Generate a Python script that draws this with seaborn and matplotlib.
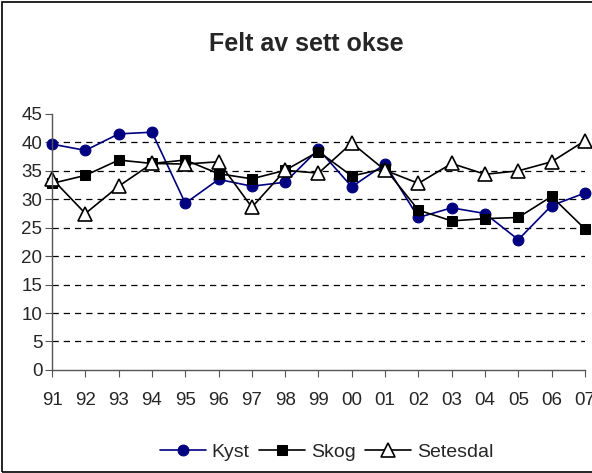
import numpy as np
import pandas as pd
import matplotlib
matplotlib.use("Agg")
import matplotlib.pyplot as plt
import seaborn as sns
from matplotlib.patches import Rectangle

# Data
years = ["91", "92", "93", "94", "95", "96", "97", "98", "99",
         "00", "01", "02", "03", "04", "05", "06", "07"]
kyst = [39.7, 38.6, 41.5, 41.8, 29.3, 33.5, 32.3, 33.0, 38.8,
        32.2, 36.2, 26.8, 28.5, 27.5, 22.9, 28.9, 31.1]
skog = [32.8, 34.2, 36.9, 36.3, 36.9, 34.5, 33.6, 35.1, 38.4,
        34.1, 35.4, 28.1, 26.2, 26.6, 26.8, 30.5, 24.8]
setesdal = [33.6, 27.5, 32.3, 36.3, 36.2, 36.6, 28.6, 35.1, 34.6,
            39.9, 35.1, 32.8, 36.3, 34.4, 35.0, 36.6, 40.3]
y_ticks = [0, 5, 10, 15, 20, 25, 30, 35, 40, 45]

sns.set_style("white")
plt.rcParams['font.family'] = ['Liberation Sans', 'DejaVu Sans']

fig = plt.figure(figsize=(5.92, 4.73), dpi=100)
ax = fig.add_axes([0.088, 0.218, 0.9, 0.541])

x = np.arange(len(years))

# Dashed grid lines (Excel style)
for t in y_ticks[1:-1]:
    ax.axhline(t, color="black", lw=0.9, ls=(0, (5, 4)), zorder=0)

sns.lineplot(x=x, y=kyst, ax=ax, color="#000080", marker="o", markersize=7.8,
             markeredgecolor="#000080", lw=1.2, label="Kyst", clip_on=False)
sns.lineplot(x=x, y=skog, ax=ax, color="black", marker="s", markersize=7.8,
             markeredgecolor="black", lw=1.2, label="Skog", clip_on=False)
sns.lineplot(x=x, y=setesdal, ax=ax, color="black", marker="^", markersize=9.5,
             markerfacecolor="white", markeredgecolor="black", markeredgewidth=1.2,
             lw=1.2, label="Setesdal", clip_on=False)

ax.set_xlim(0, len(years) - 1)
ax.set_ylim(0, 45)
ax.set_yticks(y_ticks)
ax.set_xticks(x)
ax.set_xticklabels(years)
ax.tick_params(axis="both", labelsize=13.5, direction="out", length=5,
               width=0.8, color="#555555", left=True, bottom=True)
ax.tick_params(axis="x", pad=11)
ax.tick_params(axis="y", pad=2)

for side in ["top", "right"]:
    ax.spines[side].set_visible(False)
for side in ["left", "bottom"]:
    ax.spines[side].set_color("#555555")
    ax.spines[side].set_linewidth(1.0)

fig.text(0.517, 0.907, "Felt av sett okse", ha="center", va="center",
         fontsize=18, fontweight="bold")

ax.legend(loc="center", bbox_to_anchor=(0.552, 0.045), bbox_transform=fig.transFigure,
          ncol=3, frameon=False, fontsize=14, handlelength=2.35,
          handletextpad=0.3, columnspacing=0.5, borderaxespad=0, borderpad=0)

# Chart area border (right side runs off the image)
fig.patches.append(Rectangle((0.003, 0.003), 1.2, 0.993, transform=fig.transFigure,
                             fill=False, edgecolor="black", lw=1.2))

plt.savefig("out.png", dpi=100)
